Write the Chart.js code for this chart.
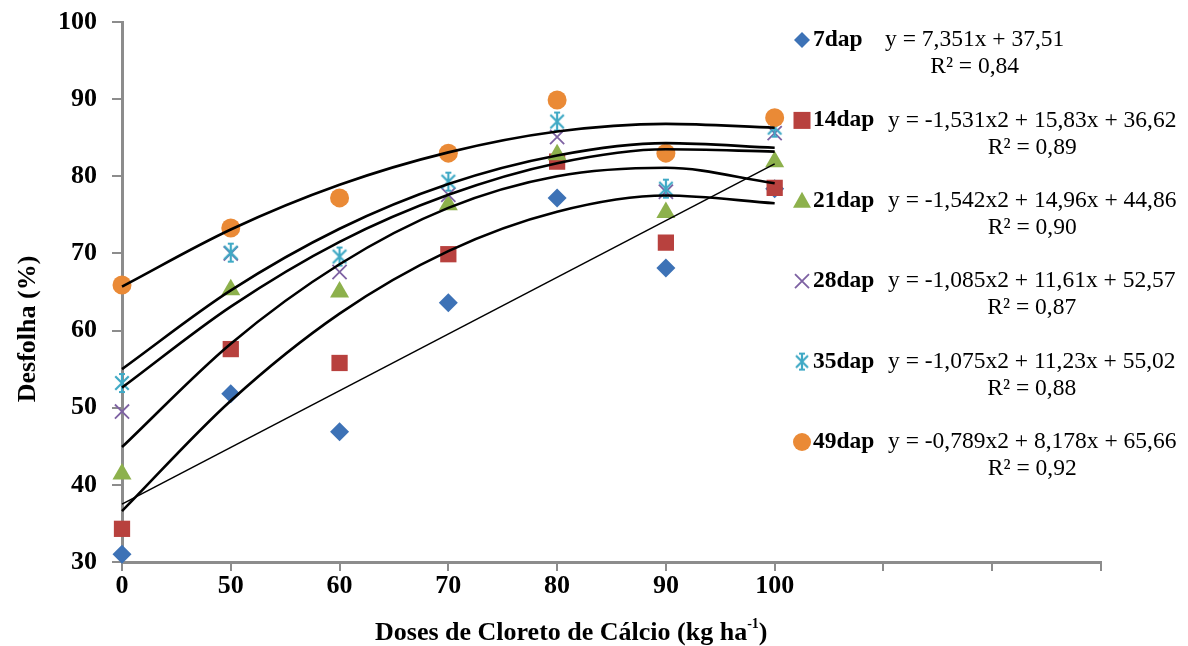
<!DOCTYPE html>
<html>
<head>
<meta charset="utf-8">
<script src="https://cdn.jsdelivr.net/npm/chart.js@4"></script>
<style>
body { margin: 0; background: #fff; }
</style>
</head>
<body>
<canvas id="graficoDesfolha" width="1188" height="646"></canvas>
<script>
// Doses de cloreto de cálcio (rótulos do eixo x, posições 0..9)
var doses = ['0', '50', '60', '70', '80', '90', '100', '', '', ''];
var posicoes = [0, 1, 2, 3, 4, 5, 6];

// Desfolha observada (%) por época de avaliação
var dap7  = [31.0, 51.8, 46.9, 63.6, 77.2, 68.1, 78.4];
var dap14 = [34.3, 57.6, 55.8, 69.9, 81.9, 71.4, 78.5];
var dap21 = [41.4, 65.3, 65.0, 76.3, 82.8, 75.3, 81.9];
var dap28 = [49.5, 70.0, 67.6, 77.6, 85.1, 78.0, 85.6];
var dap35 = [53.2, 70.1, 69.6, 79.3, 87.1, 78.4, 86.3];
var dap49 = [65.9, 73.3, 77.2, 83.0, 89.9, 83.0, 87.6];

// Linhas de tendência
var posTend7 = [0, 6];
var tend7  = [37.5, 81.6];
var tend14 = [36.6, 50.9, 62.2, 70.3, 75.4, 77.5, 76.5];
var tend21 = [44.9, 58.3, 68.6, 75.9, 80.0, 81.1, 79.1];
var tend28 = [52.6, 63.1, 71.5, 77.6, 81.7, 83.5, 83.2];
var tend35 = [55.0, 65.2, 73.2, 79.0, 82.7, 84.3, 83.7];
var tend49 = [65.7, 73.1, 78.9, 83.1, 85.8, 86.8, 86.3];

// Legenda
var nomes = ['7dap', '14dap', '21dap', '28dap', '35dap', '49dap'];
var equacoes = [
    'y = 7,351x + 37,51',
    'y = -1,531x2 + 15,83x + 36,62',
    'y = -1,542x2 + 14,96x + 44,86',
    'y = -1,085x2 + 11,61x + 52,57',
    'y = -1,075x2 + 11,23x + 55,02',
    'y = -0,789x2 + 8,178x + 65,66'
];
var r2 = ['R² = 0,84', 'R² = 0,89', 'R² = 0,90', 'R² = 0,87', 'R² = 0,88', 'R² = 0,92'];

// Eixo y
var yMin = 30, yMax = 100, yPasso = 10;

var cores = ['#3d72b6', '#b8413e', '#8db14c', '#7e62a3', '#3fa9c5', '#ea8a36'];
var fonte = '"Liberation Serif", "Times New Roman", serif';

function pares(xs, ys) {
    var out = [];
    for (var i = 0; i < ys.length; i++) out.push({ x: xs[i], y: ys[i] });
    return out;
}

// Marcador estrela (asterisco) para 35dap
function criarEstrela(cor, t) {
    var c = document.createElement('canvas');
    c.width = t; c.height = t;
    var g = c.getContext('2d');
    var m = t / 2, r = t / 2 - 2;
    g.strokeStyle = cor;
    g.lineWidth = 2.2;
    g.beginPath();
    g.moveTo(m, m - r); g.lineTo(m, m + r);
    g.moveTo(m - r * 0.75, m - r * 0.75); g.lineTo(m + r * 0.75, m + r * 0.75);
    g.moveTo(m + r * 0.75, m - r * 0.75); g.lineTo(m - r * 0.75, m + r * 0.75);
    g.moveTo(m - 3, m - r); g.lineTo(m + 3, m - r);
    g.moveTo(m - 3, m + r); g.lineTo(m + 3, m + r);
    g.stroke();
    return c;
}
var estrela = criarEstrela(cores[4], 22);
var estrelaLeg = criarEstrela(cores[4], 20);

var estilos = [
    { pointStyle: 'rectRot', pointRadius: 9.5 },
    { pointStyle: 'rect', pointRadius: 11.5 },
    { pointStyle: 'triangle', pointRadius: 11 },
    { pointStyle: 'crossRot', pointRadius: 10 },
    { pointStyle: estrela, pointRadius: 10 },
    { pointStyle: 'circle', pointRadius: 9.5 }
];

var series = [dap7, dap14, dap21, dap28, dap35, dap49];
var tendencias = [tend7, tend14, tend21, tend28, tend35, tend49];

var datasets = [];
for (var i = 0; i < series.length; i++) {
    var cruz = estilos[i].pointStyle === 'crossRot';
    datasets.push({
        label: nomes[i],
        data: pares(posicoes, series[i]),
        pointStyle: estilos[i].pointStyle,
        pointRadius: estilos[i].pointRadius,
        backgroundColor: cores[i],
        borderColor: cores[i],
        borderWidth: cruz ? 1.8 : 0,
        showLine: false,
        clip: false,
        order: series.length - i
    });
}
for (var j = 0; j < tendencias.length; j++) {
    datasets.push({
        label: 'tendência ' + nomes[j],
        data: pares(j === 0 ? posTend7 : posicoes, tendencias[j]),
        showLine: true,
        pointRadius: 0,
        borderColor: '#000',
        borderWidth: j === 0 ? 1.5 : 2.6,
        cubicInterpolationMode: 'monotone',
        fill: false,
        clip: false,
        order: 0
    });
}

function desenharMarcador(ctx, i, x, y) {
    ctx.save();
    ctx.fillStyle = cores[i];
    ctx.strokeStyle = cores[i];
    ctx.beginPath();
    if (i === 0) {
        ctx.moveTo(x, y - 8); ctx.lineTo(x + 8, y); ctx.lineTo(x, y + 8); ctx.lineTo(x - 8, y);
        ctx.closePath(); ctx.fill();
    } else if (i === 1) {
        ctx.fillRect(x - 8.5, y - 8.5, 17, 17);
    } else if (i === 2) {
        ctx.moveTo(x, y - 9); ctx.lineTo(x + 9, y + 7); ctx.lineTo(x - 9, y + 7);
        ctx.closePath(); ctx.fill();
    } else if (i === 3) {
        ctx.lineWidth = 1.8;
        ctx.moveTo(x - 7, y - 7); ctx.lineTo(x + 7, y + 7);
        ctx.moveTo(x + 7, y - 7); ctx.lineTo(x - 7, y + 7);
        ctx.stroke();
    } else if (i === 4) {
        ctx.drawImage(estrelaLeg, x - 10, y - 10);
    } else {
        ctx.arc(x, y, 9, 0, Math.PI * 2); ctx.fill();
    }
    ctx.restore();
}

// Legenda lateral e títulos dos eixos
var pluginTextos = {
    id: 'textos',
    afterDraw: function(chart) {
        var ctx = chart.ctx;
        ctx.save();
        ctx.fillStyle = '#000';
        ctx.textBaseline = 'middle';
        for (var i = 0; i < nomes.length; i++) {
            var yy = 40 + i * 80.4;
            desenharMarcador(ctx, i, 802, yy);
            ctx.textAlign = 'left';
            ctx.font = 'bold 23.5px ' + fonte;
            ctx.fillText(nomes[i], 813, yy);
            ctx.font = '23.5px ' + fonte;
            var ex = i === 0 ? 885 : 888;
            ctx.fillText(equacoes[i], ex, yy);
            var w = ctx.measureText(equacoes[i]).width;
            ctx.textAlign = 'center';
            ctx.fillText(r2[i], ex + w / 2, yy + 27);
        }
        // título eixo y
        ctx.save();
        ctx.translate(28, 329);
        ctx.rotate(-Math.PI / 2);
        ctx.textAlign = 'center';
        ctx.font = 'bold 26px ' + fonte;
        ctx.fillText('Desfolha (%)', 0, 0);
        ctx.restore();
        // título eixo x
        ctx.textAlign = 'left';
        ctx.font = 'bold 26px ' + fonte;
        var t1 = 'Doses de Cloreto de Cálcio (kg ha';
        var x0 = 375;
        ctx.fillText(t1, x0, 633);
        x0 += ctx.measureText(t1).width;
        ctx.font = 'bold 14px ' + fonte;
        ctx.fillText('-1', x0, 624);
        x0 += ctx.measureText('-1').width;
        ctx.font = 'bold 26px ' + fonte;
        ctx.fillText(')', x0, 633);
        ctx.restore();
    }
};

var ctx = document.getElementById('graficoDesfolha').getContext('2d');
var grafico = new Chart(ctx, {
    type: 'scatter',
    data: { datasets: datasets },
    options: {
        responsive: false,
        animation: false,
        devicePixelRatio: 1,
        layout: { padding: { top: 22, right: 87, bottom: 0, left: 0 } },
        plugins: { legend: { display: false }, tooltip: { enabled: false } },
        scales: {
            x: {
                type: 'linear',
                min: 0,
                max: doses.length - 1,
                ticks: {
                    stepSize: 1,
                    autoSkip: false,
                    maxRotation: 0,
                    padding: 0,
                    color: '#000',
                    font: { family: fonte, size: 26, weight: 'bold' },
                    callback: function(v) { return doses[v]; }
                },
                grid: { drawOnChartArea: false, drawTicks: true, tickLength: 9, color: '#8c8c8c', lineWidth: 2 },
                border: { color: '#8c8c8c', width: 3 },
                afterFit: function(s) { s.height = 84; s.paddingLeft = 0; s.paddingRight = 0; }
            },
            y: {
                min: yMin,
                max: yMax,
                ticks: {
                    stepSize: yPasso,
                    padding: 15,
                    color: '#000',
                    font: { family: fonte, size: 26, weight: 'bold' }
                },
                grid: { drawOnChartArea: false, drawTicks: true, tickLength: 10, color: '#8c8c8c', lineWidth: 2 },
                border: { color: '#8c8c8c', width: 3 },
                afterFit: function(s) { s.width = 122; s.paddingTop = 0; s.paddingBottom = 0; }
            }
        }
    },
    plugins: [pluginTextos]
});
</script>
</body>
</html>
